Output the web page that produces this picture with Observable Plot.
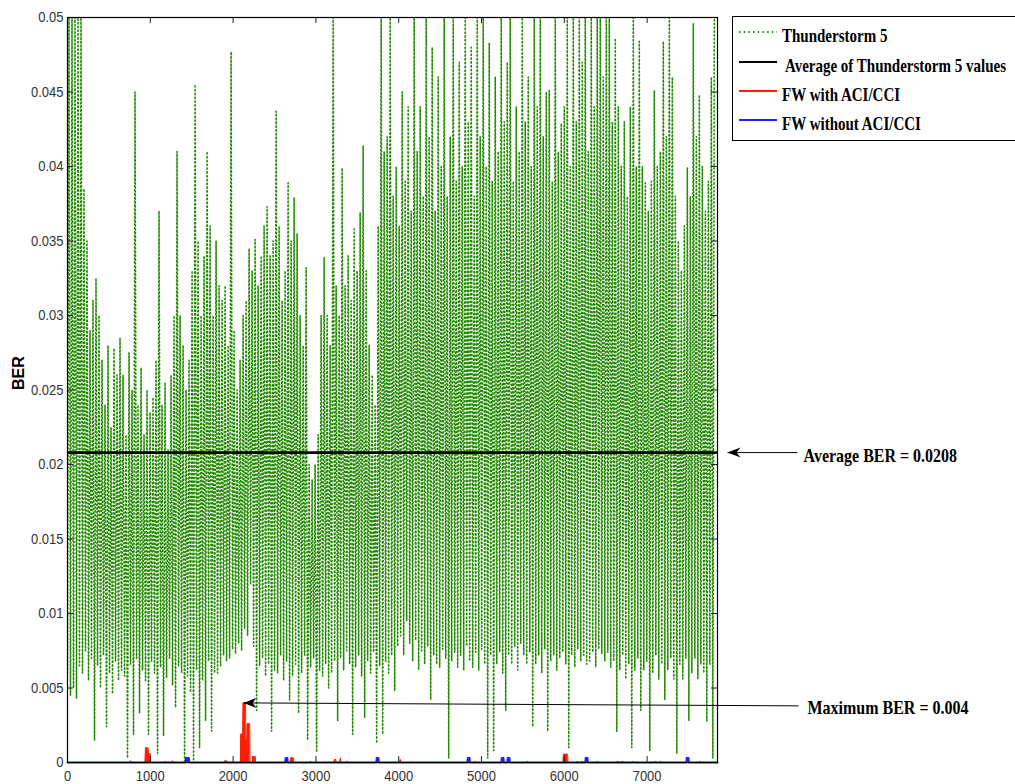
<!DOCTYPE html>
<html>
<head>
<meta charset="utf-8">
<script src="https://cdn.jsdelivr.net/npm/d3@7"></script>
<script src="https://cdn.jsdelivr.net/npm/@observablehq/plot@0.6"></script>
<style>
  html, body { margin: 0; padding: 0; background: #fff; overflow: hidden; }
  #wrap { position: relative; width: 1015px; height: 784px; }
  #chart { position: absolute; left: 0; top: 0; }
  #legend {
    position: absolute; left: 732px; top: 16px; width: 330px; height: 125px;
    box-sizing: border-box; border: 1.5px solid #000; background: #fff;
    font: bold 15px "Liberation Serif", "Times New Roman", serif; color: #000;
  }
  #legend .sw { position: absolute; left: 6px; }
  #legend .lab {
    position: absolute; display: inline-block; white-space: pre;
    line-height: 16px; transform: scaleY(1.27); transform-origin: 0 50%;
  }
</style>
</head>
<body>
<div id="wrap"><div id="chart"></div><div id="legend"></div></div>
<script>
// Thunderstorm 5 BER trace: each fading cycle goes trough -> peak -> next trough.
const cycleSamples = 36.25;
const stormPeaks = [
  0.05, 0.05, 0.05, 0.05, 0.05, 0.0385, 0.035, 0.029, 0.031, 0.0325,
  0.03, 0.027, 0.024, 0.028, 0.0225, 0.0278, 0.026, 0.0285, 0.026, 0.022,
  0.0275, 0.025, 0.045, 0.024, 0.0265, 0.022, 0.025, 0.0235, 0.0245, 0.027,
  0.037, 0.024, 0.0255, 0.021, 0.026, 0.03, 0.041, 0.03, 0.028, 0.025,
  0.027, 0.033, 0.0455, 0.035, 0.03, 0.034, 0.041, 0.036, 0.03, 0.035,
  0.032, 0.031, 0.032, 0.028, 0.0477, 0.029, 0.025, 0.027, 0.03, 0.031,
  0.0345, 0.033, 0.0351, 0.032, 0.034, 0.036, 0.0373, 0.034, 0.035, 0.0437,
  0.036, 0.031, 0.033, 0.0389, 0.035, 0.0379, 0.0355, 0.03, 0.028, 0.0332,
  0.02, 0.019, 0.02, 0.022, 0.03, 0.0339, 0.03, 0.028, 0.05, 0.032,
  0.03, 0.0399, 0.032, 0.034, 0.031, 0.0358, 0.033, 0.0369, 0.0414, 0.033,
  0.028, 0.026, 0.024, 0.036, 0.05, 0.041, 0.042, 0.05, 0.038, 0.04,
  0.036, 0.045, 0.039, 0.044, 0.037, 0.05, 0.041, 0.044, 0.038, 0.05,
  0.042, 0.048, 0.037, 0.046, 0.04, 0.05, 0.038, 0.042, 0.05, 0.039,
  0.047, 0.04, 0.05, 0.043, 0.048, 0.038, 0.05, 0.042, 0.05, 0.04,
  0.0483, 0.039, 0.046, 0.041, 0.05, 0.043, 0.047, 0.05, 0.039, 0.044,
  0.041, 0.05, 0.043, 0.046, 0.04, 0.05, 0.044, 0.05, 0.042, 0.045,
  0.0451, 0.039, 0.05, 0.041, 0.0429, 0.044, 0.05, 0.04, 0.05, 0.043,
  0.05, 0.047, 0.05, 0.041, 0.05, 0.044, 0.05, 0.05, 0.046, 0.05,
  0.05, 0.043, 0.0486, 0.044, 0.04, 0.043, 0.038, 0.044, 0.05, 0.04,
  0.0484, 0.04, 0.0389, 0.037, 0.039, 0.0451, 0.04, 0.041, 0.0484, 0.042,
  0.05, 0.046, 0.038, 0.035, 0.033, 0.036, 0.0399, 0.038, 0.0496, 0.042,
  0.0448, 0.04, 0.037, 0.039, 0.046, 0.05
];
const stormTroughs = [
  0.006, 0.0045, 0.005, 0.0043, 0.0065, 0.006, 0.0075, 0.0055, 0.007, 0.0015,
  0.0065, 0.005, 0.0072, 0.0024, 0.006, 0.0046, 0.0068, 0.0055, 0.0062, 0.0058,
  0.0003, 0.0066, 0.0019, 0.007, 0.0033, 0.0062, 0.0055, 0.0019, 0.0068, 0.006,
  0.0006, 0.0064, 0.0018, 0.0057, 0.007, 0.0052, 0.0037, 0.0065, 0.006, 0.0001,
  0.0058, 0.0047, 0.0001, 0.0062, 0.001, 0.0055, 0.0028, 0.0068, 0.0021, 0.006,
  0.006, 0.0065, 0.0072, 0.0068, 0.007, 0.0076, 0.0073, 0.008, 0.0075, 0.009,
  0.0085, 0.012, 0.0078, 0.0035, 0.0065, 0.007, 0.0058, 0.0066, 0.0021, 0.0062,
  0.006, 0.0072, 0.0055, 0.0068, 0.0042, 0.0058, 0.0066, 0.0033, 0.006, 0.0072,
  0.0015, 0.0064, 0.007, 0.0007, 0.0062, 0.0058, 0.0066, 0.005, 0.006, 0.0068,
  0.0028, 0.007, 0.0062, 0.0075, 0.0066, 0.0019, 0.0064, 0.0072, 0.0058, 0.003,
  0.0068, 0.006, 0.0074, 0.0013, 0.0065, 0.0019, 0.0068, 0.006, 0.0072, 0.0048,
  0.0078, 0.0085, 0.0072, 0.0095, 0.008, 0.0068, 0.0082, 0.0062, 0.0075, 0.0066,
  0.0078, 0.0042, 0.0072, 0.0066, 0.0064, 0.0076, 0.007, 0.0003, 0.0068, 0.0074,
  0.0064, 0.0072, 0.0062, 0.0078, 0.0068, 0.0064, 0.0074, 0.0062, 0.0076, 0.0066,
  0.0003, 0.0072, 0.0008, 0.0066, 0.0074, 0.006, 0.0035, 0.0072, 0.0066, 0.0078,
  0.0062, 0.008, 0.0072, 0.0066, 0.0074, 0.0024, 0.0066, 0.0072, 0.006, 0.0076,
  0.0021, 0.0068, 0.0072, 0.0062, 0.007, 0.0074, 0.0066, 0.001, 0.0072, 0.0064,
  0.0076, 0.0068, 0.0072, 0.0066, 0.0068, 0.0074, 0.0064, 0.0076, 0.0073, 0.0068,
  0.0074, 0.0064, 0.0068, 0.0021, 0.0062, 0.0072, 0.0056, 0.0066, 0.001, 0.0062,
  0.007, 0.0035, 0.0062, 0.0068, 0.0008, 0.006, 0.0072, 0.0056, 0.0066, 0.0042,
  0.0062, 0.007, 0.0056, 0.0006, 0.0066, 0.0056, 0.007, 0.0028, 0.006, 0.007,
  0.0056, 0.0066, 0.006, 0.0028, 0.0066, 0.0003
];

const avgBER = 0.0208;
const maxBER = 0.004;

// FW with ACI/CCI: [sample, BER]
const fwWithACI = [
  [0, 0],
  [755, 0], [761, 0.00012], [767, 0],
  [938, 0], [942, 0.00098], [975, 0.00098], [978, 0.0006], [1000, 0.0006], [1003, 0],
  [1178, 0], [1184, 0.0001], [1190, 0],
  [1262, 0], [1268, 0.00012], [1274, 0],
  [1419, 0], [1425, 0.0001], [1431, 0],
  [1895, 0], [1900, 0.0001], [1925, 0.0001], [1930, 0],
  [2088, 0], [2093, 0.0019], [2117, 0.0019], [2121, maxBER], [2150, maxBER], [2155, 0.0015],
  [2168, 0.0015], [2172, 0.0026], [2200, 0.0026], [2204, 0],
  [2234, 0], [2238, 0.0004], [2268, 0.0004], [2272, 0],
  [2690, 0], [2694, 0.0003], [2730, 0.0003], [2734, 0],
  [2929, 0], [2935, 0.0001], [2941, 0],
  [3220, 0], [3225, 0.0002], [3240, 0.0002], [3245, 0],
  [3290, 0], [3296, 0.0003], [3302, 0],
  [3372, 0], [3378, 0.0001], [3384, 0],
  [4014, 0], [4020, 0.0002], [4026, 0],
  [4922, 0], [4928, 0.0001], [4934, 0],
  [5550, 0], [5556, 0.0001], [5562, 0],
  [5986, 0], [5990, 0.00055], [6040, 0.00055], [6044, 0],
  [6153, 0], [6159, 0.0001], [6165, 0],
  [6214, 0], [6220, 0.0001], [6226, 0],
  [6395, 0], [6401, 0.0001], [6407, 0],
  [6637, 0], [6643, 0.0001], [6649, 0],
  [6697, 0], [6703, 0.0001], [6709, 0],
  [6818, 0], [6824, 0.0001], [6830, 0],
  [7095, 0], [7101, 0.0001], [7107, 0],
  [7156, 0], [7162, 0.0001], [7168, 0],
  [7639, 0], [7645, 0.0001], [7651, 0],
  [7850, 0]
];

// FW without ACI/CCI: [sample, BER]
const fwWithoutACI = [
  [0, 0],
  [1428, 0], [1432, 0.0003], [1466, 0.0003], [1470, 0],
  [2630, 0], [2634, 0.0003], [2656, 0.0003], [2660, 0],
  [3730, 0], [3734, 0.0003], [3756, 0.0003], [3760, 0],
  [4830, 0], [4834, 0.0003], [4856, 0.0003], [4860, 0],
  [5240, 0], [5244, 0.0003], [5266, 0.0003], [5270, 0],
  [5312, 0], [5316, 0.0003], [5338, 0.0003], [5342, 0],
  [6254, 0], [6258, 0.0003], [6280, 0.0003], [6284, 0],
  [7474, 0], [7478, 0.0003], [7500, 0.0003], [7504, 0],
  [7850, 0]
];

const xTicks = [0, 1000, 2000, 3000, 4000, 5000, 6000, 7000];
const yTicks = [0, 0.005, 0.01, 0.015, 0.02, 0.025, 0.03, 0.035, 0.04, 0.045, 0.05];
const xDomain = [0, 7850];
const yDomain = [0, 0.05];

const seriesNames = ["Thunderstorm 5", " Average of Thunderstorm 5 values", "FW with ACI/CCI", "FW without ACI/CCI"];

// callouts: arrow tip on the mark, line out into the right margin, label after it
const callouts = [
  {label: `Average BER = ${avgBER}`, tipX: 7971, tipY: avgBER, endX: 8816, endY: avgBER, textX: 8889, textY: 0.0206},
  {label: `Maximum BER = ${maxBER}`, tipX: 2126, tipY: maxBER, endX: 8829, endY: 0.0038, textX: 8937, textY: 0.00369}
];

const green = "#228a00", red = "#ff1e00", blue = "#1c22ff";

const stormPoints = stormPeaks.flatMap((p, i) => [
  {x: i * cycleSamples, y: stormTroughs[i]},
  {x: i * cycleSamples + cycleSamples / 2, y: p}
]);

// filled arrowhead with its tip at the anchor point, pointing left
const arrowHead = {
  draw(ctx) {
    ctx.moveTo(0, 0);
    ctx.lineTo(13, -5);
    ctx.lineTo(9, 0);
    ctx.lineTo(13, 5);
    ctx.closePath();
  }
};

const fmtY = d => String(Math.round(d * 1000) / 1000);
const fmtX = d => String(d);

const chart = Plot.plot({
  width: 1015,
  height: 784,
  marginLeft: 67,
  marginRight: 298,
  marginTop: 17,
  marginBottom: 22,
  x: {domain: xDomain},
  y: {domain: yDomain},
  style: {background: "transparent", fontFamily: "'Liberation Sans', Arial, sans-serif", fontSize: "13px", color: "#333", overflow: "visible"},
  marks: [
    Plot.line(stormPoints, {x: "x", y: "y", stroke: green, strokeWidth: 1.6, strokeDasharray: "1.2,2.6", clip: true}),
    Plot.ruleY([avgBER], {stroke: "#000", strokeWidth: 2.6}),
    Plot.areaY(fwWithACI, {x: d => d[0], y: d => d[1], fill: red}),
    Plot.line(fwWithACI, {x: d => d[0], y: d => d[1], stroke: red, strokeWidth: 1}),
    Plot.areaY(fwWithoutACI, {x: d => d[0], y: d => d[1], fill: blue}),
    Plot.line(fwWithoutACI, {x: d => d[0], y: d => d[1], stroke: blue, strokeWidth: 2}),
    // inward ticks on all four sides
    Plot.ruleX(xTicks, {insetTop: 739, stroke: "#222"}),
    Plot.ruleX(xTicks, {insetBottom: 739, stroke: "#222"}),
    Plot.ruleY(yTicks, {insetRight: 644, stroke: "#222"}),
    Plot.ruleY(yTicks, {insetLeft: 644, stroke: "#222"}),
    Plot.frame({stroke: "#000", strokeWidth: 1.2}),
    Plot.axisX(xTicks, {tickSize: 0, tickPadding: 9, tickFormat: fmtX, label: null}),
    Plot.axisY(yTicks, {tickSize: 0, tickPadding: 4, tickFormat: fmtY, label: null}),
    Plot.text(["BER"], {frameAnchor: "left", dx: -49, rotate: -90, fontWeight: "bold", fontSize: 16, fill: "#000"}),
    // callouts
    Plot.link(callouts, {x1: "tipX", y1: "tipY", x2: "endX", y2: "endY", stroke: "#000", strokeWidth: 1}),
    Plot.dot(callouts, {x: "tipX", y: "tipY", symbol: arrowHead, fill: "#000", stroke: null}),
    Plot.text(callouts, {x: "textX", y: "textY", text: "label", textAnchor: "start", fontFamily: "'Liberation Serif', 'Times New Roman', serif", fontWeight: "bold", fontSize: 16, fill: "#000"})
  ]
});

document.getElementById("chart").appendChild(chart);

// taller glyphs, as in the exported figure
for (const t of chart.querySelectorAll("text")) {
  const s = t.textContent;
  if (s === "BER") continue;
  const k = s.includes("=") ? 1.22 : 1.15;
  const b = t.getBBox();
  const cy = b.y + b.height / 2;
  const prev = t.getAttribute("transform") || "";
  t.setAttribute("transform", `${prev} translate(0,${cy}) scale(1,${k}) translate(0,${-cy})`);
}

// legend
const legend = document.getElementById("legend");
const legendRows = [
  {color: green, dash: "1.4,3.3", top: 19},
  {color: "#000", dash: null, top: 49},
  {color: red, dash: null, top: 78},
  {color: blue, dash: null, top: 107}
];
seriesNames.forEach((name, i) => {
  const r = legendRows[i];
  const sw = document.createElementNS("http://www.w3.org/2000/svg", "svg");
  sw.setAttribute("class", "sw");
  sw.setAttribute("width", 38);
  sw.setAttribute("height", 6);
  sw.style.top = (r.top - 7) + "px";
  const ln = document.createElementNS("http://www.w3.org/2000/svg", "line");
  ln.setAttribute("x1", 0); ln.setAttribute("x2", 38);
  ln.setAttribute("y1", 3); ln.setAttribute("y2", 3);
  ln.setAttribute("stroke", r.color);
  ln.setAttribute("stroke-width", 2);
  if (r.dash) ln.setAttribute("stroke-dasharray", r.dash);
  sw.appendChild(ln);
  legend.appendChild(sw);
  const lab = document.createElement("span");
  lab.className = "lab";
  lab.textContent = name;
  lab.style.left = "49px";
  lab.style.top = (r.top - 8) + "px";
  legend.appendChild(lab);
});
</script>
</body>
</html>
